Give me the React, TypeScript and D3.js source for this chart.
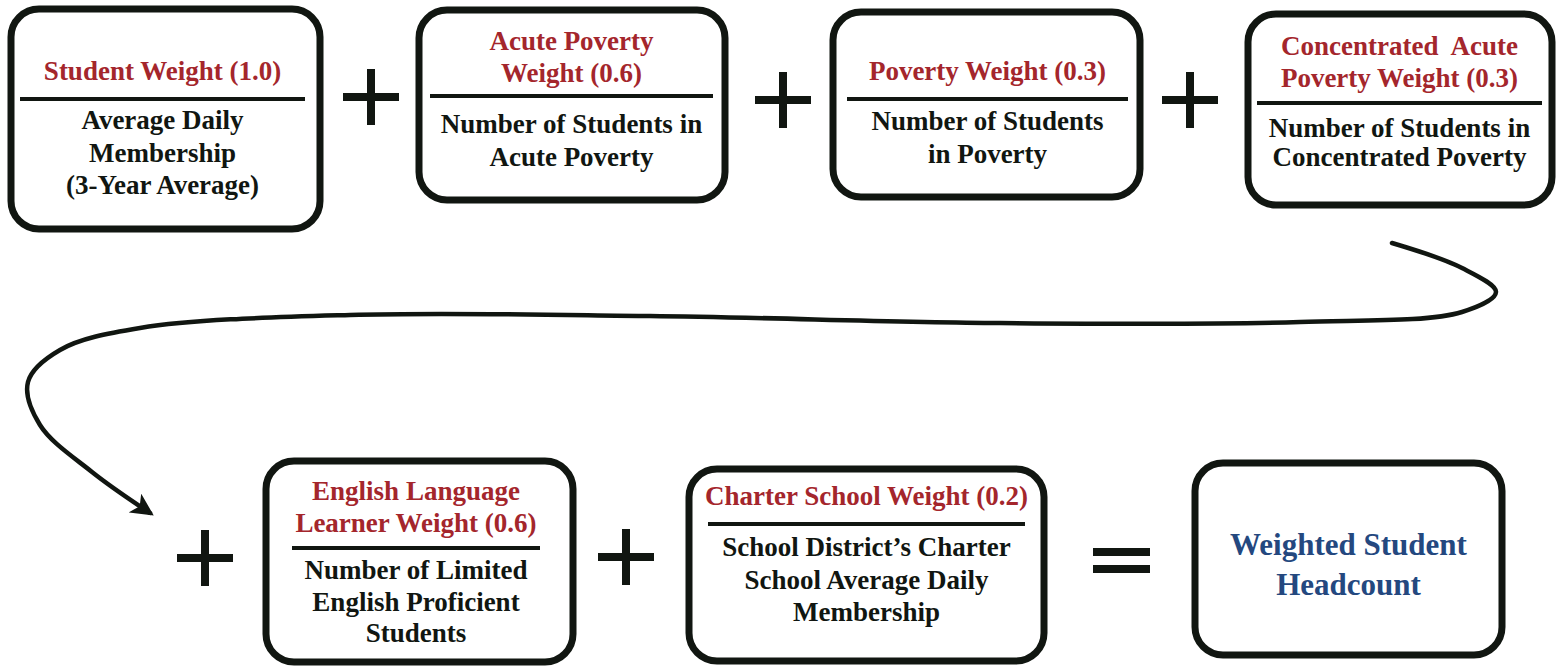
import React from "react";
import * as d3 from "d3";

const titles: string[][] = [
  ["Student Weight (1.0)"],
  ["Acute Poverty", "Weight (0.6)"],
  ["Poverty Weight (0.3)"],
  ["Concentrated  Acute", "Poverty Weight (0.3)"],
  ["English Language", "Learner Weight (0.6)"],
  ["Charter School Weight (0.2)"],
];
const bodies: string[][] = [
  ["Average Daily", "Membership", "(3-Year Average)"],
  ["Number of Students in", "Acute Poverty"],
  ["Number of Students", "in Poverty"],
  ["Number of Students in", "Concentrated Poverty"],
  ["Number of Limited", "English Proficient", "Students"],
  ["School District\u2019s Charter", "School Average Daily", "Membership"],
];
const resultLines: string[] = ["Weighted Student", "Headcount"];

// layout: box rect, title baselines, divider y and x-extent, body baselines
const boxLayout = [
  { x0: 11, y0: 9, x1: 320, y1: 229, t: [80], ly: 99, lx0: 20, lx1: 305, b: [129, 162, 194] },
  { x0: 419, y0: 10, x1: 725, y1: 200, t: [50, 82], ly: 96, lx0: 430, lx1: 713, b: [133, 166] },
  { x0: 833, y0: 12, x1: 1140, y1: 197, t: [80], ly: 99, lx0: 847, lx1: 1128, b: [130, 163] },
  { x0: 1248, y0: 14, x1: 1552, y1: 205, t: [55, 87], ly: 103, lx0: 1257, lx1: 1542, b: [137, 166] },
  { x0: 266, y0: 461, x1: 573, y1: 662, t: [500, 532], ly: 548, lx0: 292, lx1: 540, b: [579, 611, 642] },
  { x0: 689, y0: 469, x1: 1044, y1: 661, t: [505], ly: 524, lx0: 708, lx1: 1025, b: [556, 589, 621] },
];
const resultLayout = { x0: 1195, y0: 463, x1: 1502, y1: 655, b: [555, 595] };
const plusCenters: [number, number][] = [
  [371, 97],
  [783, 100],
  [1190, 100],
  [205, 558],
  [626, 557],
];
const equalsPos = { x0: 1093, x1: 1150, y: [552, 569] };
const arrowPoints: [number, number][] = [
  [1392, 243],
  [1462, 268],
  [1496, 292],
  [1462, 312],
  [1300, 322],
  [1000, 323],
  [650, 316],
  [350, 315],
  [140, 328],
  [60, 350],
  [28, 382],
  [40, 425],
  [92, 472],
  [150, 513],
];

const RED = "#a4262c";
const BLUE = "#24487f";
const INK = "#111611";
const FONT = "Liberation Serif";

const arrowLine = d3.line().curve(d3.curveCatmullRom.alpha(0.5));

function Plus({ x, y }: { x: number; y: number }) {
  const h = 28;
  return (
    <g stroke={INK} strokeWidth={8}>
      <line x1={x - h} x2={x + h} y1={y} y2={y} />
      <line x1={x} x2={x} y1={y - h} y2={y + h} />
    </g>
  );
}

export default function App() {
  const R = resultLayout;
  return (
    <svg width={1557} height={670} style={{ position: "absolute", left: 0, top: 0, display: "block" }}>
      <rect width={1557} height={670} fill="#fff" />
      <defs>
        <marker id="ah" viewBox="0 0 10 10" refX={8} refY={5} markerWidth={5} markerHeight={5} markerUnits="strokeWidth" orient="auto">
          <path d="M0,0 L10,5 L0,10 L2.5,5 Z" fill={INK} />
        </marker>
      </defs>
      <path d={arrowLine(arrowPoints) || ""} fill="none" stroke={INK} strokeWidth={4.5} strokeLinecap="round" markerEnd="url(#ah)" />
      {boxLayout.map((L, i) => {
        const cx = (L.lx0 + L.lx1) / 2;
        return (
          <g key={i}>
            <rect x={L.x0} y={L.y0} width={L.x1 - L.x0} height={L.y1 - L.y0} rx={28} fill="#fff" stroke={INK} strokeWidth={7} />
            {titles[i].map((t, j) => (
              <text key={"t" + j} x={cx} y={L.t[j]} textAnchor="middle" fontFamily={FONT} fontWeight="bold" fontSize={27} fill={RED} style={{ whiteSpace: "pre" }}>
                {t}
              </text>
            ))}
            <line x1={L.lx0} x2={L.lx1} y1={L.ly} y2={L.ly} stroke={INK} strokeWidth={4} />
            {bodies[i].map((t, j) => (
              <text key={"b" + j} x={cx} y={L.b[j]} textAnchor="middle" fontFamily={FONT} fontWeight="bold" fontSize={27} fill={INK}>
                {t}
              </text>
            ))}
          </g>
        );
      })}
      <rect x={R.x0} y={R.y0} width={R.x1 - R.x0} height={R.y1 - R.y0} rx={28} fill="#fff" stroke={INK} strokeWidth={7} />
      {resultLines.map((t, j) => (
        <text key={t} x={(R.x0 + R.x1) / 2} y={R.b[j]} textAnchor="middle" fontFamily={FONT} fontWeight="bold" fontSize={31} fill={BLUE}>
          {t}
        </text>
      ))}
      {plusCenters.map(([x, y], i) => (
        <Plus key={i} x={x} y={y} />
      ))}
      {equalsPos.y.map((y) => (
        <line key={y} x1={equalsPos.x0} x2={equalsPos.x1} y1={y} y2={y} stroke={INK} strokeWidth={8} />
      ))}
    </svg>
  );
}
